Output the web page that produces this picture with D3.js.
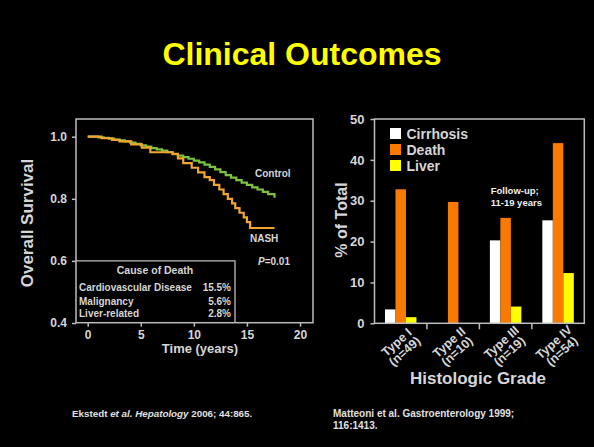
<!DOCTYPE html>
<html><head><meta charset="utf-8">
<script src="https://cdn.jsdelivr.net/npm/d3@7"></script>
<style>
html,body{margin:0;padding:0;background:#000;}
svg{display:block;font-family:Arial,"Liberation Sans",sans-serif;}
</style></head>
<body>
<svg id="c" width="594" height="447"></svg>
<script>
// ---------- Data ----------
const controlTime = [0,0.5,1,1.5,2,2.5,3,3.5,4,4.5,5,5.5,6,6.5,7,7.5,8,8.5,9,9.5,10,10.5,11,11.5,12,12.5,13,13.5,14,14.5,15,15.5,16,16.5,17,17.6];
const controlSurv = [1.0,1.0,0.998,0.996,0.994,0.991,0.988,0.985,0.981,0.977,0.972,0.968,0.963,0.959,0.955,0.95,0.944,0.939,0.934,0.929,0.923,0.917,0.91,0.903,0.895,0.886,0.876,0.868,0.86,0.852,0.845,0.837,0.83,0.822,0.815,0.803];
const nashTime = [0,1.3,2.3,3.0,4.1,5.1,5.9,8.0,8.5,9.0,9.8,10.4,11.0,11.5,11.9,12.4,12.8,13.2,13.6,13.9,14.3,14.7,15.0,15.3,17.6];
const nashSurv = [1.0,0.995,0.99,0.985,0.975,0.965,0.95,0.945,0.93,0.915,0.9,0.885,0.87,0.86,0.845,0.83,0.815,0.8,0.785,0.77,0.755,0.74,0.725,0.706,0.706];
const survTicksX = [0,5,10,15,20];
const survTicksY = [0.4,0.6,0.8,1.0];
const causes = ["Cardiovascular Disease","Malignancy","Liver-related"];
const causePct = ["15.5%","5.6%","2.8%"];

const gradeTypes = ["Type I","Type II","Type III","Type IV"];
const gradeN = ["(n=49)","(n=10)","(n=19)","(n=54)"];
const seriesNames = ["Cirrhosis","Death","Liver"];
const cirrhosis = [3.4,0,20.3,25.2];
const death = [32.8,29.7,25.8,44.1];
const liver = [1.5,0,4.1,12.3];
const barTicksY = [0,10,20,30,40,50];

const seriesColors = ["#ffffff","#f97a00","#ffff00"];
const axisColor = "#bdbdbd";
const textColor = "#d6d6d6";

const svg = d3.select("#c");
svg.append("rect").attr("width",594).attr("height",447).attr("fill","#000");

// Title
svg.append("text").attr("x",302).attr("y",65).attr("text-anchor","middle")
  .attr("font-size",32).attr("font-weight","bold").attr("fill","#ffff00")
  .text("Clinical Outcomes");

// ---------- Left: survival ----------
const L = {left:76,right:313,top:119,bottom:322.7};
const xs = d3.scaleLinear().domain([0,20]).range([87.7,300]);
const ys = d3.scaleLinear().domain([0.4,1.0]).range([323,136.7]);
const gl = svg.append("g");

gl.append("rect").attr("x",L.left).attr("y",L.top).attr("width",L.right-L.left).attr("height",L.bottom-L.top)
  .attr("fill","none").attr("stroke",axisColor).attr("stroke-width",1.5);

const yAxL = gl.append("g").attr("transform",`translate(${L.left},0)`)
  .call(d3.axisLeft(ys).tickValues(survTicksY).tickFormat(d3.format(".1f")).tickSize(4).tickPadding(5));
const xAxL = gl.append("g").attr("transform",`translate(0,${L.bottom})`)
  .call(d3.axisBottom(xs).tickValues(survTicksX).tickFormat(d3.format("d")).tickSize(4).tickPadding(4));
[yAxL,xAxL].forEach(a=>{
  a.select(".domain").remove();
  a.selectAll("line").attr("stroke",axisColor).attr("stroke-width",1.5);
  a.selectAll("text").attr("fill",textColor).attr("font-size",12).attr("font-weight","bold")
   .attr("font-family","Arial,'Liberation Sans',sans-serif");
});

gl.append("text").attr("transform","translate(33,223) rotate(-90)").attr("text-anchor","middle")
  .attr("font-size",17).attr("font-weight","bold").attr("fill",textColor).text("Overall Survival");
gl.append("text").attr("x",200).attr("y",353).attr("text-anchor","middle")
  .attr("font-size",13).attr("font-weight","bold").attr("fill",textColor).text("Time (years)");

const line = d3.line().x(d=>xs(d[0])).y(d=>ys(d[1])).curve(d3.curveStepAfter);
gl.append("path").datum(controlTime.map((t,i)=>[t,controlSurv[i]]))
  .attr("d",line).attr("fill","none").attr("stroke","#7cc242").attr("stroke-width",2.2);
gl.append("path").datum(nashTime.map((t,i)=>[t,nashSurv[i]]))
  .attr("d",line).attr("fill","none").attr("stroke","#f2a531").attr("stroke-width",2.2);

gl.append("text").attr("x",255).attr("y",177).attr("font-size",10).attr("font-weight","bold").attr("fill",textColor).text("Control");
gl.append("text").attr("x",250).attr("y",242).attr("font-size",10).attr("font-weight","bold").attr("fill",textColor).text("NASH");
const pt = gl.append("text").attr("x",258).attr("y",264.5).attr("font-size",10).attr("font-weight","bold").attr("fill",textColor);
pt.append("tspan").attr("font-style","italic").text("P");
pt.append("tspan").text("=0.01");

// Cause of death box
const boxRight = 235, boxTop = ys(0.6);
gl.append("path").attr("d",`M${L.left},${boxTop}H${boxRight}V${L.bottom}`)
  .attr("fill","none").attr("stroke",axisColor).attr("stroke-width",1.3);
gl.append("text").attr("x",155).attr("y",274).attr("text-anchor","middle")
  .attr("font-size",10.5).attr("font-weight","bold").attr("fill",textColor).text("Cause of Death");
const rowY = [290.5,304.5,316.5];
causes.forEach((c,i)=>{
  gl.append("text").attr("x",79).attr("y",rowY[i]).attr("font-size",10).attr("font-weight","bold").attr("fill",textColor).text(c);
  gl.append("text").attr("x",231).attr("y",rowY[i]).attr("text-anchor","end").attr("font-size",10).attr("font-weight","bold").attr("fill",textColor).text(causePct[i]);
});

// ---------- Right: bar chart ----------
const R = {left:374.5,right:584.3,top:119,bottom:323.3};
const x0 = d3.scaleBand().domain(gradeTypes).range([R.left,R.right]);
const x1 = d3.scaleBand().domain(seriesNames).range([x0.bandwidth()*0.2,x0.bandwidth()*0.8]);
const yb = d3.scaleLinear().domain([0,50]).range([R.bottom,R.top]);
const gr = svg.append("g");
const seriesVals = [cirrhosis,death,liver];

gradeTypes.forEach((g,gi)=>{
  seriesNames.forEach((s,si)=>{
    const v = seriesVals[si][gi];
    if (v<=0) return;
    gr.append("rect").attr("x",x0(g)+x1(s)).attr("width",x1.bandwidth())
      .attr("y",yb(v)).attr("height",yb(0)-yb(v)).attr("fill",seriesColors[si]);
  });
});

gr.append("rect").attr("x",R.left).attr("y",R.top).attr("width",R.right-R.left).attr("height",R.bottom-R.top)
  .attr("fill","none").attr("stroke",axisColor).attr("stroke-width",1.5);

const yAxR = gr.append("g").attr("transform",`translate(${R.left},0)`)
  .call(d3.axisLeft(yb).tickValues(barTicksY).tickSize(4).tickPadding(6));
yAxR.select(".domain").remove();
yAxR.selectAll("line").attr("stroke",axisColor).attr("stroke-width",1.5);
yAxR.selectAll("text").attr("fill",textColor).attr("font-size",13).attr("font-weight","bold")
  .attr("font-family","Arial,'Liberation Sans',sans-serif");

// band boundary ticks
gr.selectAll(".bt").data(gradeTypes.slice(1)).enter().append("line")
  .attr("x1",d=>x0(d)).attr("x2",d=>x0(d)).attr("y1",R.bottom).attr("y2",R.bottom+6)
  .attr("stroke",axisColor).attr("stroke-width",1.5);

gradeTypes.forEach((g,i)=>{
  const cx = x0(g)+x0.bandwidth()/2;
  const t = gr.append("g").attr("transform",`translate(${cx},347) rotate(-42)`);
  t.append("text").attr("y",-2).attr("text-anchor","middle").attr("font-size",12.5).attr("font-weight","bold").attr("fill",textColor).text(g);
  t.append("text").attr("y",10).attr("text-anchor","middle").attr("font-size",12.5).attr("font-weight","bold").attr("fill",textColor).text(gradeN[i]);
});

gr.append("text").attr("transform","translate(347,220) rotate(-90)").attr("text-anchor","middle")
  .attr("font-size",16).attr("font-weight","bold").attr("fill",textColor).text("% of Total");
gr.append("text").attr("x",478).attr("y",384).attr("text-anchor","middle")
  .attr("font-size",17).attr("font-weight","bold").attr("fill",textColor).text("Histologic Grade");

// legend
seriesNames.forEach((s,i)=>{
  gr.append("rect").attr("x",390).attr("y",128+i*16).attr("width",11).attr("height",11).attr("fill",seriesColors[i]);
  gr.append("text").attr("x",406.5).attr("y",138.5+i*16).attr("font-size",14).attr("font-weight","bold").attr("fill",textColor).text(s);
});

gr.append("text").attr("x",490.7).attr("y",194).attr("font-size",9.5).attr("font-weight","bold").attr("fill","#f0f0f0").text("Follow-up;");
gr.append("text").attr("x",490.7).attr("y",206).attr("font-size",9.5).attr("font-weight","bold").attr("fill","#f0f0f0").text("11-19 years");

// ---------- Footnotes ----------
const f1 = svg.append("text").attr("x",72).attr("y",416.5).attr("font-size",9.8).attr("font-weight","bold").attr("fill","#e0e0e0");
f1.append("tspan").text("Ekstedt ");
f1.append("tspan").attr("font-style","italic").text("et al. Hepatology");
f1.append("tspan").text(" 2006; 44:865.");
svg.append("text").attr("x",333).attr("y",416.5).attr("font-size",10).attr("font-weight","bold").attr("fill","#e0e0e0")
  .text("Matteoni et al. Gastroenterology 1999;");
svg.append("text").attr("x",333).attr("y",428.5).attr("font-size",10).attr("font-weight","bold").attr("fill","#e0e0e0")
  .text("116:1413.");
</script>
</body></html>
